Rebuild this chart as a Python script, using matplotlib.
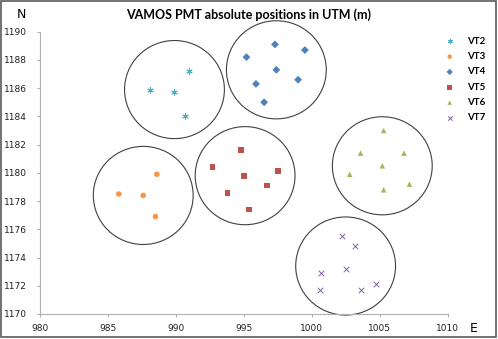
import numpy as np
import matplotlib
matplotlib.use('Agg')
import matplotlib.pyplot as plt
from matplotlib.patches import Ellipse, Rectangle

# PMT positions (E, N in m)
vt2_e = [988.1, 989.9, 991.0, 990.7]
vt2_n = [1185.9, 1185.7, 1187.2, 1184.0]
vt3_e = [985.8, 987.6, 988.6, 988.5]
vt3_n = [1178.5, 1178.4, 1179.9, 1176.9]
vt4_e = [995.2, 997.3, 999.5, 997.4, 999.0, 995.9, 996.5]
vt4_n = [1188.2, 1189.1, 1188.7, 1187.3, 1186.6, 1186.3, 1185.0]
vt5_e = [992.7, 994.8, 995.0, 993.8, 995.4, 996.7, 997.5]
vt5_n = [1180.4, 1181.6, 1179.8, 1178.6, 1177.4, 1179.1, 1180.1]
vt6_e = [1005.3, 1003.6, 1006.8, 1005.2, 1002.8, 1007.2, 1005.3]
vt6_n = [1183.0, 1181.4, 1181.4, 1180.5, 1179.9, 1179.2, 1178.8]
vt7_e = [1002.2, 1003.2, 1002.5, 1000.7, 1000.6, 1003.6, 1004.7]
vt7_n = [1175.5, 1174.8, 1173.2, 1172.9, 1171.7, 1171.7, 1172.1]

# group circles (centre E, centre N)
circ_e = [989.9, 987.6, 997.4, 995.1, 1005.2, 1002.5]
circ_n = [1185.9, 1178.4, 1187.3, 1179.8, 1180.5, 1173.4]

series = [
    ('VT2', vt2_e, vt2_n, '#4BACC6', (6, 2, 0)),
    ('VT3', vt3_e, vt3_n, '#F79646', 'o'),
    ('VT4', vt4_e, vt4_n, '#4F81BD', 'D'),
    ('VT5', vt5_e, vt5_n, '#C0504D', 's'),
    ('VT6', vt6_e, vt6_n, '#9BBB59', '^'),
    ('VT7', vt7_e, vt7_n, '#8064A2', 'x'),
]

fig = plt.figure(figsize=(4.98, 3.39), dpi=100)
ax = fig.add_axes([40 / 498, 25 / 339, 407.5 / 498, 282.3 / 339])

for e, n in zip(circ_e, circ_n):
    ax.add_patch(Ellipse((e, n), 7.35, 6.95, fill=False, ec='#404040',
                         lw=0.8, clip_on=False, zorder=1))

for name, e, n, col, mk in series:
    if mk in ['x', (6, 2, 0)]:
        ax.scatter(e, n, s=16, marker=mk, color=col, linewidths=0.7,
                   label=name, zorder=3)
    else:
        sz = 16 if mk != 's' else 18
        ax.scatter(e, n, s=sz, marker=mk, color=col, edgecolors='none',
                   label=name, zorder=3)

ax.set_xlim(980, 1010)
ax.set_ylim(1170, 1190)
ax.set_xticks(np.arange(980, 1011, 5))
ax.set_yticks(np.arange(1170, 1191, 2))
for s in ['top', 'right']:
    ax.spines[s].set_visible(False)
for s in ['left', 'bottom']:
    ax.spines[s].set_color('#B0B0B0')
    ax.spines[s].set_linewidth(0.8)
ax.tick_params(length=2.5, width=0.8, color='#B0B0B0', labelsize=6.5,
               labelcolor='#202020')
ax.tick_params(axis='y', pad=7)
ax.tick_params(axis='x', pad=4.5)

ax.legend(loc='upper left', bbox_to_anchor=(439 / 498, 1 - 32 / 339),
          bbox_transform=fig.transFigure, frameon=False,
          prop={'family': 'Lato', 'weight': 'bold', 'size': 7},
          labelspacing=0.65, handletextpad=1.2, borderpad=0, handlelength=1.2,
          markerscale=0.8)

fig.text(248.5 / 498, 1 - 15 / 339, 'VAMOS PMT absolute positions in UTM (m)',
         ha='center', va='center', family='Lato', weight='bold', fontsize=9)
fig.text(21 / 498, 1 - 14 / 339, 'N', ha='center', va='center', fontsize=9)
fig.text(473.5 / 498, 1 - 328 / 339, 'E', ha='center', va='center', fontsize=9)

fig.patches.append(Rectangle((0.5 / 498, 2 / 339), 495.5 / 498, 336.5 / 339,
                             transform=fig.transFigure, fill=False,
                             ec='#5A5A5A', lw=1.2))

fig.savefig('out.png', dpi=100)
